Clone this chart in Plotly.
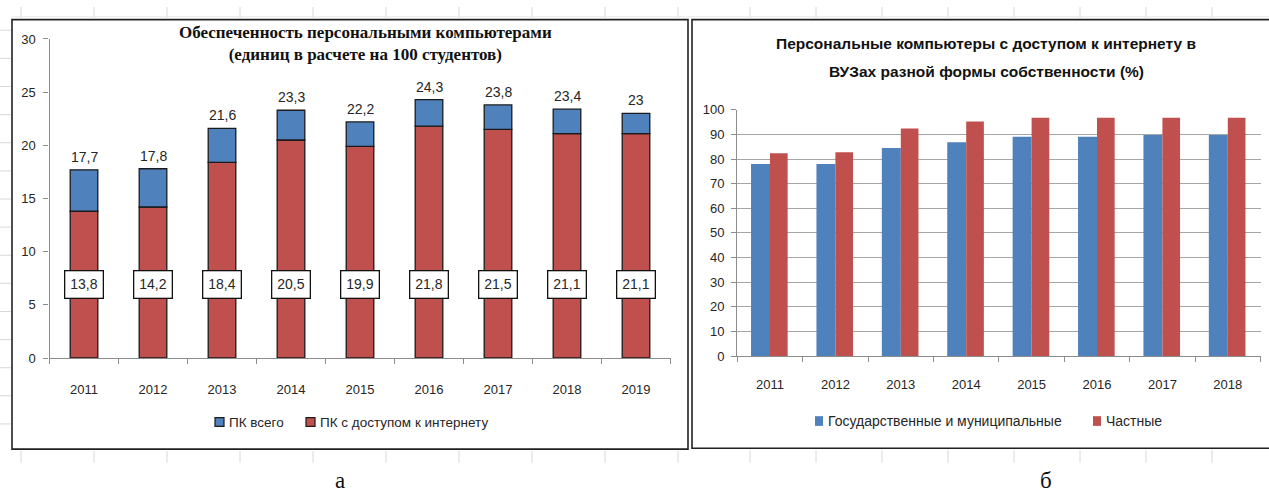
import plotly.graph_objects as go

# --- data -----------------------------------------------------------------
years_a = ["2011", "2012", "2013", "2014", "2015", "2016", "2017", "2018", "2019"]
pc_total = [17.7, 17.8, 21.6, 23.3, 22.2, 24.3, 23.8, 23.4, 23.0]
pc_internet = [13.8, 14.2, 18.4, 20.5, 19.9, 21.8, 21.5, 21.1, 21.1]

years_b = ["2011", "2012", "2013", "2014", "2015", "2016", "2017", "2018"]
state_share = [78, 78, 84.5, 86.8, 89, 89, 89.8, 89.8]
private_share = [82.3, 82.8, 92.4, 95.2, 96.8, 96.8, 96.8, 96.8]

# --- helpers ----------------------------------------------------------------
W, H = 1269, 494
BLUE, RED = "#4F81BD", "#C0504D"
SANS = "Liberation Sans"
SERIF = "Liberation Serif"
TXT = "#262626"
AXC = "#8C8C8C"
EDGE = "#1a1a1a"


def px(x):
    return x / W


def py(y):
    return 1 - y / H


def fmt(v):
    return f"{v:g}".replace(".", ",")


fig = go.Figure()

# --- panel a: stacked bars ---------------------------------------------------
fig.add_trace(go.Bar(
    x=years_a, y=pc_internet, name="ПК с доступом к интернету",
    xaxis="x", yaxis="y", showlegend=False,
    width=0.4, offset=-0.2,
    marker=dict(color=RED, line=dict(color=EDGE, width=1.3)),
))
fig.add_trace(go.Bar(
    x=years_a, y=[t - i for t, i in zip(pc_total, pc_internet)], base=pc_internet,
    name="ПК всего", xaxis="x", yaxis="y", showlegend=False,
    width=0.4, offset=-0.2,
    marker=dict(color=BLUE, line=dict(color=EDGE, width=1.3)),
))

# --- panel b: grouped bars ---------------------------------------------------
fig.add_trace(go.Bar(
    x=years_b, y=state_share, name="Государственные и муниципальные",
    xaxis="x2", yaxis="y2", showlegend=False,
    width=0.29, offset=-0.29,
    marker=dict(color=BLUE, line=dict(width=0)),
))
fig.add_trace(go.Bar(
    x=years_b, y=private_share, name="Частные",
    xaxis="x2", yaxis="y2", showlegend=False,
    width=0.27, offset=0.0,
    marker=dict(color=RED, line=dict(width=0)),
))

annotations = []
shapes = []

# totals above the stacks
for i, t in enumerate(pc_total):
    annotations.append(dict(
        x=i, y=t, xref="x", yref="y", text=fmt(t), showarrow=False,
        yanchor="bottom", yshift=3, font=dict(family=SANS, size=14, color=TXT),
    ))
# boxed values of the internet-connected part
for i, v in enumerate(pc_internet):
    annotations.append(dict(
        x=i, y=6.9, xref="x", yref="y", text=fmt(v), showarrow=False,
        font=dict(family=SANS, size=14, color=TXT),
        bgcolor="white", bordercolor="#111111", borderwidth=1.3, borderpad=5,
    ))

# titles
annotations.append(dict(
    x=px(365), y=py(37.5), xref="paper", yref="paper", showarrow=False,
    text="Обеспеченность персональными компьютерами<br>(единиц в расчете на 100 студентов)",
    font=dict(family=SERIF, size=17, color="#111111", weight="bold"),
    xanchor="center", yanchor="middle",
))
for line, yc in (("Персональные компьютеры с доступом к интернету в", 38),
                 ("ВУЗах разной формы собственности (%)", 67)):
    annotations.append(dict(
        x=px(986), y=py(yc), xref="paper", yref="paper", showarrow=False,
        text=line, font=dict(family=SANS, size=15.5, color="#111111", weight="bold"),
        xanchor="center", yanchor="middle",
    ))
# panel letters
for letter, xc in (("а", 340), ("б", 1046)):
    annotations.append(dict(
        x=px(xc), y=py(488), xref="paper", yref="paper", showarrow=False,
        text=letter, font=dict(family=SERIF, size=23, color="#111111"),
        xanchor="center", yanchor="middle",
    ))


# legends: swatch + caption
def legend_item(x0, w, h, yc, color, edge, label, size):
    shapes.append(dict(type="rect", xref="paper", yref="paper",
                       x0=px(x0), x1=px(x0 + w), y0=py(yc + h / 2), y1=py(yc - h / 2),
                       fillcolor=color,
                       line=dict(color=edge, width=1.2) if edge else dict(width=0)))
    annotations.append(dict(
        x=px(x0 + w + 3), y=py(yc), xref="paper", yref="paper", showarrow=False,
        text=label, xanchor="left", yanchor="middle",
        font=dict(family=SANS, size=size, color=TXT),
    ))


legend_item(215, 9, 9, 428, BLUE, EDGE, "ПК всего", 13.5)
legend_item(306, 9, 9, 428, RED, EDGE, "ПК с доступом к интернету", 13.5)
legend_item(815, 8, 10, 427, BLUE, None, "Государственные и муниципальные", 14)
legend_item(1093, 8, 10, 427, RED, None, "Частные", 14)

# panel frames
shapes.append(dict(type="rect", xref="paper", yref="paper",
                   x0=px(12), x1=px(688), y0=py(456), y1=py(13),
                   line=dict(color="#222222", width=1.6)))
shapes.append(dict(type="rect", xref="paper", yref="paper",
                   x0=px(692), x1=px(1275), y0=py(455), y1=py(13),
                   line=dict(color="#222222", width=1.6)))
# faint worksheet cell lines around the frames
CELL = "#D8D8D8"
for x in range(21, 688, 73):
    for y0, y1 in ((0, 12), (458, 470)):
        shapes.append(dict(type="line", xref="paper", yref="paper",
                           x0=px(x), x1=px(x), y0=py(y0), y1=py(y1),
                           line=dict(color=CELL, width=1)))
for x in range(750, 1269, 66):
    for y0, y1 in ((0, 12), (457, 470)):
        shapes.append(dict(type="line", xref="paper", yref="paper",
                           x0=px(x), x1=px(x), y0=py(y0), y1=py(y1),
                           line=dict(color=CELL, width=1)))
for y in range(24, 456, 29):
    shapes.append(dict(type="line", xref="paper", yref="paper",
                       x0=px(0), x1=px(11), y0=py(y), y1=py(y),
                       line=dict(color=CELL, width=1)))
shapes.append(dict(type="line", xref="paper", yref="paper",
                   x0=px(12), x1=px(1269), y0=py(10), y1=py(10),
                   line=dict(color="#EBEBEB", width=1)))

axis_common = dict(
    showline=True, linecolor=AXC, linewidth=1.3,
    ticks="outside", ticklen=5, tickcolor=AXC, tickwidth=1.2,
    tickfont=dict(family=SANS, size=13, color=TXT),
    zeroline=False, fixedrange=True,
)

fig.update_layout(
    width=W, height=H,
    margin=dict(l=0, r=0, t=0, b=0),
    paper_bgcolor="white", plot_bgcolor="white",
    barmode="overlay",
    showlegend=False,
    xaxis=dict(axis_common, domain=[px(49.5), px(670.5)], type="category",
               range=[-0.5, 8.5], tickson="boundaries", showgrid=False,
               ticklabelstandoff=19, anchor="y"),
    yaxis=dict(axis_common, domain=[py(362), py(33)], range=[0, 30],
               dtick=5, showgrid=False, ticklabelstandoff=5, anchor="x"),
    xaxis2=dict(axis_common, domain=[px(737.3), px(1260.5)], type="category",
                range=[-0.5, 7.5], tickson="boundaries", showgrid=False,
                ticklabelstandoff=16, anchor="y2"),
    yaxis2=dict(axis_common, domain=[py(360), py(106)], range=[0, 100],
                dtick=10, showgrid=True, gridcolor="#A6A6A6", gridwidth=1.2,
                ticklabelstandoff=4, anchor="x2"),
    annotations=annotations,
    shapes=shapes,
)

fig.write_html("out.html")
